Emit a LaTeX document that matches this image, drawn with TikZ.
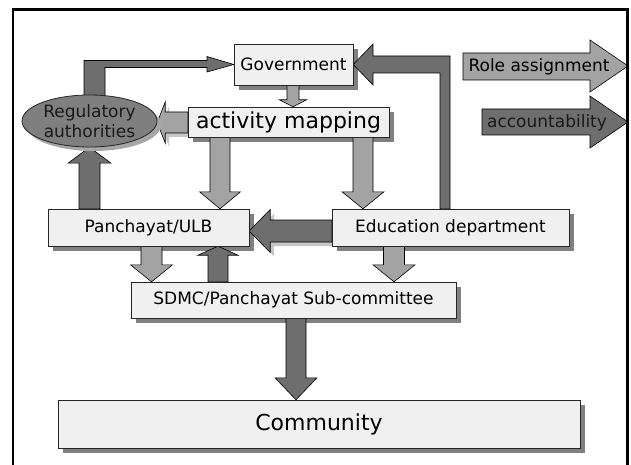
\documentclass[tikz,border=0pt]{standalone}
\usepackage{fontspec}
\setmainfont{DejaVu Sans}
\usetikzlibrary{calc,shapes.geometric}

\definecolor{boxfill}{HTML}{F0F0F0}
\definecolor{boxshade}{HTML}{808080}
\definecolor{lightfill}{HTML}{A3A3A3}
\definecolor{darkfill}{HTML}{6E6E6E}
\definecolor{ellfill}{HTML}{7F7F7F}
\definecolor{arrowshade}{HTML}{C6C6C6}

\tikzset{
  every node/.style={inner sep=0pt, font=\fontsize{17}{19.5}\selectfont},
  box/.style={draw=black!85, line width=0.8pt, fill=boxfill},
  bigtext/.style={font=\fontsize{22}{26}\selectfont},
  authority/.style={ellipse, draw=black!85, line width=0.8pt, fill=ellfill,
    text=black!90, align=center,
    preaction={fill=boxshade!70, transform canvas={shift={(4pt,-4pt)}}}},
  lightarr/.style={draw=black, line width=0.6pt, fill=lightfill, line join=miter},
  darkarr/.style={draw=black, line width=0.6pt, fill=darkfill, line join=miter},
  shaded/.style={preaction={fill=arrowshade, transform canvas={shift={(4pt,-4pt)}}}},
  frameline/.style={line width=2.2pt, draw=black}
}

% block arrow pointing down: style, from, to, x, shaft half width, head half width, head length
\newcommand\blockdown[7]{%
  \path[#1] let \p1=(#2.south), \p2=(#3.north) in
    (#4pt-#5pt,\y1) -- (#4pt+#5pt,\y1) -- (#4pt+#5pt,\y2+#7pt) -- (#4pt+#6pt,\y2+#7pt)
    -- (#4pt,\y2) -- (#4pt-#6pt,\y2+#7pt) -- (#4pt-#5pt,\y2+#7pt) -- cycle;}
% block arrow pointing up
\newcommand\blockup[7]{%
  \path[#1] let \p1=(#2.north), \p2=(#3.south) in
    (#4pt-#5pt,\y1) -- (#4pt+#5pt,\y1) -- (#4pt+#5pt,\y2-#7pt) -- (#4pt+#6pt,\y2-#7pt)
    -- (#4pt,\y2) -- (#4pt-#6pt,\y2-#7pt) -- (#4pt-#5pt,\y2-#7pt) -- cycle;}
% block arrow pointing left: style, from, to, y, shaft half width, head half width, head length
\newcommand\blockleft[7]{%
  \path[#1] let \p1=(#2.west), \p2=(#3.east) in
    (\x1,-#4pt+#5pt) -- (\x2+#7pt,-#4pt+#5pt) -- (\x2+#7pt,-#4pt+#6pt) -- (\x2,-#4pt)
    -- (\x2+#7pt,-#4pt-#6pt) -- (\x2+#7pt,-#4pt-#5pt) -- (\x1,-#4pt-#5pt) -- cycle;}

\begin{document}
\begin{tikzpicture}[x=1pt,y=-1pt]
\useasboundingbox (0,0) rectangle (631,465);
\fill[white] (0,0) rectangle (631,465);

% positions of the organisations (nodes drawn later, on top of the arrows)
\path (293.5,64.5) node[minimum width=119pt, minimum height=41pt] (gov) {}
      (288.5,122) node[minimum width=201pt, minimum height=30pt] (act) {}
      (89.5,121) node[ellipse, minimum width=135pt, minimum height=52pt] (reg) {}
      (148.5,227.5) node[minimum width=201pt, minimum height=37pt] (pan) {}
      (450.5,227.5) node[minimum width=237pt, minimum height=37pt] (edu) {}
      (293.5,300) node[minimum width=325pt, minimum height=36pt] (sdmc) {}
      (319,424) node[minimum width=522pt, minimum height=48pt] (com) {};

% shadows of the boxes
\foreach \n in {gov,act,pan,edu,sdmc,com}
  \fill[boxshade] ([shift={(5pt,-5pt)}]\n.south west) rectangle ([shift={(5pt,-5pt)}]\n.north east);

% elbow arrows into Government
\path[darkarr] let \p1=(reg.north), \p2=(gov.west) in
  (84pt,\y1-3pt) -- (84pt,\y2+4pt) -- (207pt,\y2+4pt) -- (207pt,\y2+8pt) -- (\x2,\y2)
  -- (207pt,\y2-7.5pt) -- (207pt,\y2-3pt) -- (105pt,\y2-3pt) -- (105pt,\y1-3pt) -- cycle;
\path[darkarr] let \p1=(edu.north), \p2=(gov.east) in
  (440pt,\y1) -- (440pt,\y2-8.5pt) -- (373pt,\y2-8.5pt) -- (373pt,\y2-20.5pt) -- (\x2,\y2)
  -- (373pt,\y2+20.5pt) -- (373pt,\y2+8.5pt) -- (450pt,\y2+8.5pt) -- (450pt,\y1) -- cycle;

% vertical block arrows
\blockdown{lightarr}{gov}{act}{293}{6}{13.5}{7}
\blockdown{lightarr}{act}{pan}{220}{10}{20.5}{17}
\blockdown{lightarr}{act}{edu}{363}{10}{21}{17}
\blockup{darkarr}{pan}{reg}{89.5}{10.5}{21.5}{16}
\blockdown{lightarr}{pan}{sdmc}{151.5}{10.5}{21}{17}
\blockup{darkarr}{sdmc}{pan}{218}{10}{20}{9}
\blockdown{lightarr}{edu}{sdmc}{394}{10.5}{21}{17}
\blockdown{darkarr}{sdmc}{com}{296}{10}{21}{22}

% horizontal block arrows
\blockleft{lightarr,shaded}{act}{reg}{122.5}{10.5}{20.5}{8}
\blockleft{darkarr,shaded}{edu}{pan}{231}{11}{21.5}{21}

% boxes and labels
\node[box, minimum width=119pt, minimum height=41pt] at (gov) {Government};
\node[box, bigtext, minimum width=201pt, minimum height=30pt] at (act) {activity mapping};
\node[authority, minimum width=135pt, minimum height=52pt] at (reg) {Regulatory\\authorities};
\node[box, minimum width=201pt, minimum height=37pt] at (pan) {Panchayat/ULB};
\node[box, minimum width=237pt, minimum height=37pt] at (edu) {Education department};
\node[box, minimum width=325pt, minimum height=36pt] at (sdmc) {SDMC/Panchayat Sub-committee};
\node[box, bigtext, minimum width=522pt, minimum height=48pt] at (com) {Community};

% legend arrows
\path[lightarr] (463,53) -- (590,53) -- (590,40) -- (628,66) -- (590,92) -- (590,80) -- (463,80) -- cycle;
\node (rolelbl) at (539,66.5) {Role assignment};
\path[darkarr] (482,109) -- (590,109) -- (590,96) -- (628,122) -- (590,148) -- (590,135) -- (482,135) -- cycle;
\node[text=black!90] (acclbl) at (547,122.5) {accountability};

% frame
\draw[frameline] (13,466) -- (13,9.5) -- (627.5,9.5) -- (627.5,466);
\end{tikzpicture}
\end{document}
